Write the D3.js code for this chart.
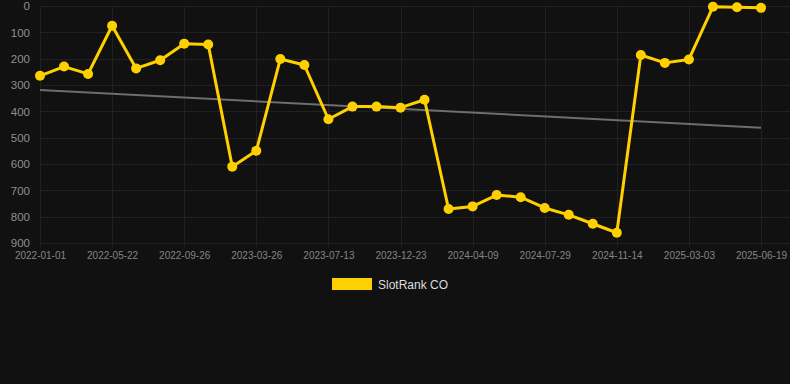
<!DOCTYPE html>
<html>
<head>
<meta charset="utf-8">
<script src="https://cdn.jsdelivr.net/npm/d3@7"></script>
<style>
  html, body { margin: 0; padding: 0; background: #111111; }
  svg { display: block; font-family: "Liberation Sans", Arial, sans-serif; }
</style>
</head>
<body>
<svg id="chart" width="790" height="384"></svg>
<script>
// x categories (every third one is shown as a tick label)
const categories = [
  '2022-01-01', '2022-02-17', '2022-04-05', '2022-05-22', '2022-06-24', '2022-07-26',
  '2022-09-26', '2022-11-02', '2023-01-01', '2023-03-26', '2023-04-30', '2023-06-06',
  '2023-07-13', '2023-09-07', '2023-10-29', '2023-12-23', '2024-01-30', '2024-03-05',
  '2024-04-09', '2024-05-19', '2024-06-23', '2024-07-29', '2024-09-05', '2024-10-10',
  '2024-11-14', '2024-12-20', '2025-01-26', '2025-03-03', '2025-04-08', '2025-05-14',
  '2025-06-19'
]
const tickLabels = [
  '2022-01-01', '2022-05-22', '2022-09-26', '2023-03-26', '2023-07-13', '2023-12-23',
  '2024-04-09', '2024-07-29', '2024-11-14', '2025-03-03', '2025-06-19'
]
const rankValues = [
  265, 230, 258, 75, 237, 206, 143, 146, 610, 550,
  201, 224, 430, 382, 382, 386, 356, 771, 761, 718,
  726, 767, 793, 827, 861, 186, 216, 203, 3, 5, 7
]
const trendValues = [319, 462]   // start and end of the trend line
const yTicks = [0, 100, 200, 300, 400, 500, 600, 700, 800, 900]
const seriesName = 'SlotRank CO'

const LINE_COLOR = '#ffd000'
const GRID_COLOR = '#212121'
const MARGIN = {top: 6, right: 29, bottom: 141, left: 40}
const WIDTH = 790
const HEIGHT = 384

let svg = d3.select('#chart')
let innerW = WIDTH - MARGIN.left - MARGIN.right
let innerH = HEIGHT - MARGIN.top - MARGIN.bottom

let xScale = d3.scalePoint()
  .domain(categories)
  .range([0, innerW])

let yScale = d3.scaleLinear()
  .domain([0, 900])
  .range([0, innerH])

let chart = svg.append('g')
  .attr('transform', 'translate(' + MARGIN.left + ',' + MARGIN.top + ')')

// horizontal grid, running out to the right edge
chart.append('g')
  .selectAll('line')
  .data(yTicks)
  .enter().append('line')
  .attr('x1', 0)
  .attr('x2', WIDTH - MARGIN.left)
  .attr('y1', d => Math.round(yScale(d)) + 0.5)
  .attr('y2', d => Math.round(yScale(d)) + 0.5)
  .attr('stroke', GRID_COLOR)
  .attr('stroke-width', 1)

// vertical grid at labelled categories, with small tick marks below
chart.append('g')
  .selectAll('line')
  .data(tickLabels)
  .enter().append('line')
  .attr('x1', d => Math.round(xScale(d)) + 0.5)
  .attr('x2', d => Math.round(xScale(d)) + 0.5)
  .attr('y1', 0)
  .attr('y2', innerH + 4)
  .attr('stroke', GRID_COLOR)
  .attr('stroke-width', 1)

// y axis labels
let yAxis = d3.axisLeft(yScale)
  .tickValues(yTicks)
  .tickSize(0)
  .tickPadding(10)
chart.append('g')
  .call(yAxis)
  .call(g => g.select('.domain').remove())
  .call(g => g.selectAll('text')
    .attr('fill', '#8f8f8f')
    .style('font-size', '11.5px')
    .attr('font-family', null))

// x axis labels
let xAxis = d3.axisBottom(xScale)
  .tickValues(tickLabels)
  .tickSize(0)
  .tickPadding(9)
chart.append('g')
  .attr('transform', 'translate(0,' + innerH + ')')
  .call(xAxis)
  .call(g => g.select('.domain').remove())
  .call(g => g.selectAll('text')
    .attr('fill', '#858585')
    .style('font-size', '10px')
    .attr('font-family', null))

// trend line
chart.append('line')
  .attr('x1', xScale(categories[0]))
  .attr('x2', xScale(categories[categories.length - 1]))
  .attr('y1', yScale(trendValues[0]))
  .attr('y2', yScale(trendValues[1]))
  .attr('stroke', '#6e6e6e')
  .attr('stroke-width', 2)

// main series
let line = d3.line()
  .x((d, i) => xScale(categories[i]))
  .y(d => yScale(d))

chart.append('path')
  .datum(rankValues)
  .attr('d', line)
  .attr('fill', 'none')
  .attr('stroke', LINE_COLOR)
  .attr('stroke-width', 3)
  .attr('stroke-linejoin', 'round')

chart.selectAll('.point')
  .data(rankValues)
  .enter().append('circle')
  .attr('class', 'point')
  .attr('cx', (d, i) => xScale(categories[i]))
  .attr('cy', d => yScale(d))
  .attr('r', 5)
  .attr('fill', LINE_COLOR)

// legend
let legend = svg.append('g')
  .attr('transform', 'translate(332,278)')
legend.append('rect')
  .attr('width', 40)
  .attr('height', 12)
  .attr('fill', LINE_COLOR)
legend.append('text')
  .attr('x', 46)
  .attr('y', 10.5)
  .attr('fill', '#dddddd')
  .style('font-size', '12px')
  .text(seriesName)
</script>
</body>
</html>
